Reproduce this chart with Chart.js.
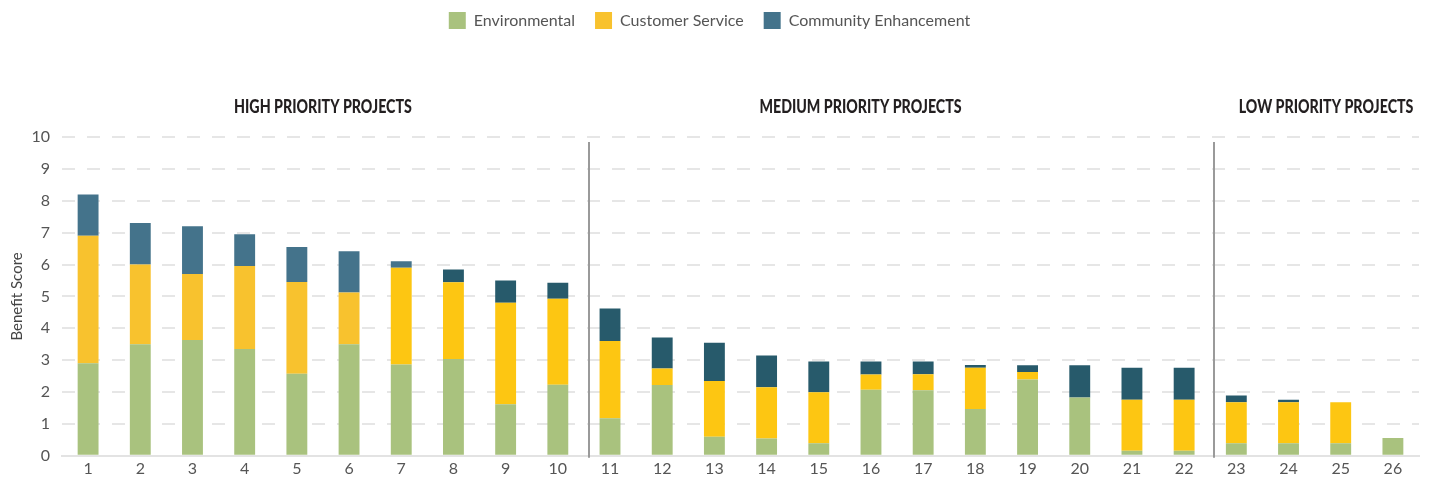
<!DOCTYPE html>
<html lang="en">
  <head>
    <meta charset="UTF-8" />
    <title>Benefit Score by Project</title>
    <script src="https://cdn.jsdelivr.net/npm/chart.js"></script>
    <style>
      body { margin: 0; background: #fff; }
      #wrap { width: 1435px; height: 481px; }
    </style>
  </head>
  <body>
    <div id="wrap"><canvas id="benefit-chart"></canvas></div>

    <script>
      // project numbers (x axis)
      const projects = ["1","2","3","4","5","6","7","8","9","10","11","12","13","14","15","16","17","18","19","20","21","22","23","24","25","26"];

      // benefit score parts per project
      const environmental = [2.9, 3.5, 3.63, 3.35, 2.57, 3.5, 2.86, 3.04, 1.62, 2.23, 1.18, 2.22, 0.6, 0.54, 0.39, 2.07, 2.06, 1.47, 2.39, 1.83, 0.16, 0.16, 0.39, 0.39, 0.39, 0.56];
      const customerService = [4.0, 2.5, 2.07, 2.6, 2.88, 1.62, 3.04, 2.4, 3.18, 2.7, 2.42, 0.52, 1.75, 1.61, 1.6, 0.48, 0.5, 1.29, 0.24, 0, 1.6, 1.6, 1.29, 1.29, 1.29, 0];
      const community = [1.3, 1.3, 1.5, 1.0, 1.1, 1.3, 0.2, 0.4, 0.7, 0.5, 1.02, 0.97, 1.2, 1.0, 0.97, 0.41, 0.4, 0.09, 0.21, 1.01, 1.0, 1.0, 0.21, 0.08, 0, 0];

      // priority groups: label, where the header sits, where the group ends
      const groupNames = ["HIGH PRIORITY PROJECTS", "MEDIUM PRIORITY PROJECTS", "LOW PRIORITY PROJECTS"];
      const groupCenters = [4.5, 14.8, 23.72];
      const groupBreaks = [9.6, 21.57];

      const GREEN = "#a9c27e";
      const YELLOW_LT = "#f8c22e";
      const YELLOW = "#fdc612";
      const BLUE_LT = "#44738b";
      const BLUE = "#275a6b";
      const FONT = "Lato, 'Liberation Sans', sans-serif";

      // make room under the legend for the group headers
      const legendSpacer = {
        id: "legendSpacer",
        beforeInit(chart) {
          const fit = chart.legend.fit;
          chart.legend.fit = function () {
            fit.bind(chart.legend)();
            this.height += 98;
          };
        }
      };

      // vertical separators + headers
      const groups = {
        id: "groups",
        afterDatasetsDraw(chart) {
          const ctx = chart.ctx;
          const x = chart.scales.x;
          const area = chart.chartArea;
          ctx.save();
          ctx.strokeStyle = "#9a9a9a";
          ctx.lineWidth = 2;
          groupBreaks.forEach((b) => {
            const px = Math.round(x.getPixelForValue(b));
            ctx.beginPath();
            ctx.moveTo(px, area.top + 5);
            ctx.lineTo(px, area.bottom + 2);
            ctx.stroke();
          });
          ctx.fillStyle = "#231f20";
          ctx.font = "900 18px " + FONT;
          ctx.textAlign = "center";
          ctx.textBaseline = "middle";
          groupNames.forEach((name, i) => {
            // condensed look: squeeze the text horizontally
            ctx.save();
            ctx.translate(x.getPixelForValue(groupCenters[i]), area.top - 30);
            ctx.scale(0.79, 1);
            ctx.fillText(name, 0, 0);
            ctx.restore();
          });
          ctx.restore();
        }
      };

      new Chart(document.getElementById("benefit-chart"), {
        type: "bar",
        data: {
          labels: projects,
          datasets: [
            {
              label: "Environmental",
              data: environmental,
              backgroundColor: GREEN
            },
            {
              label: "Customer Service",
              data: customerService,
              backgroundColor: (c) => (c.dataIndex >= 6 ? YELLOW : YELLOW_LT)
            },
            {
              label: "Community Enhancement",
              data: community,
              backgroundColor: (c) => (c.dataIndex >= 7 ? BLUE : BLUE_LT)
            }
          ]
        },
        plugins: [legendSpacer, groups],
        options: {
          responsive: true,
          maintainAspectRatio: false,
          animation: false,
          barPercentage: 0.4,
          categoryPercentage: 1,
          layout: { padding: { top: -8, right: 16, bottom: 0, left: 0 } },
          plugins: {
            tooltip: { enabled: false },
            legend: {
              position: "top",
              labels: {
                boxWidth: 17,
                boxHeight: 17,
                padding: 20,
                color: "#555",
                font: { family: FONT, size: 16 }
              }
            }
          },
          scales: {
            x: {
              stacked: true,
              grid: { display: false, drawTicks: false },
              border: { display: true, color: "#e3e3e3", width: 2 },
              ticks: { color: "#555", padding: 3, font: { family: FONT, size: 16 } }
            },
            y: {
              stacked: true,
              min: 0,
              max: 10,
              afterFit(axis) { axis.width = 62; },
              ticks: { stepSize: 1, padding: 12, color: "#555", font: { family: FONT, size: 16 } },
              grid: { color: "#e6e6e6", lineWidth: 2, drawTicks: false },
              border: { display: false, dash: [13, 12] },
              title: {
                display: true,
                text: "Benefit Score",
                color: "#444",
                padding: { top: 8, bottom: 0 },
                font: { family: FONT, size: 15 }
              }
            }
          }
        }
      });
    </script>
  </body>
</html>
